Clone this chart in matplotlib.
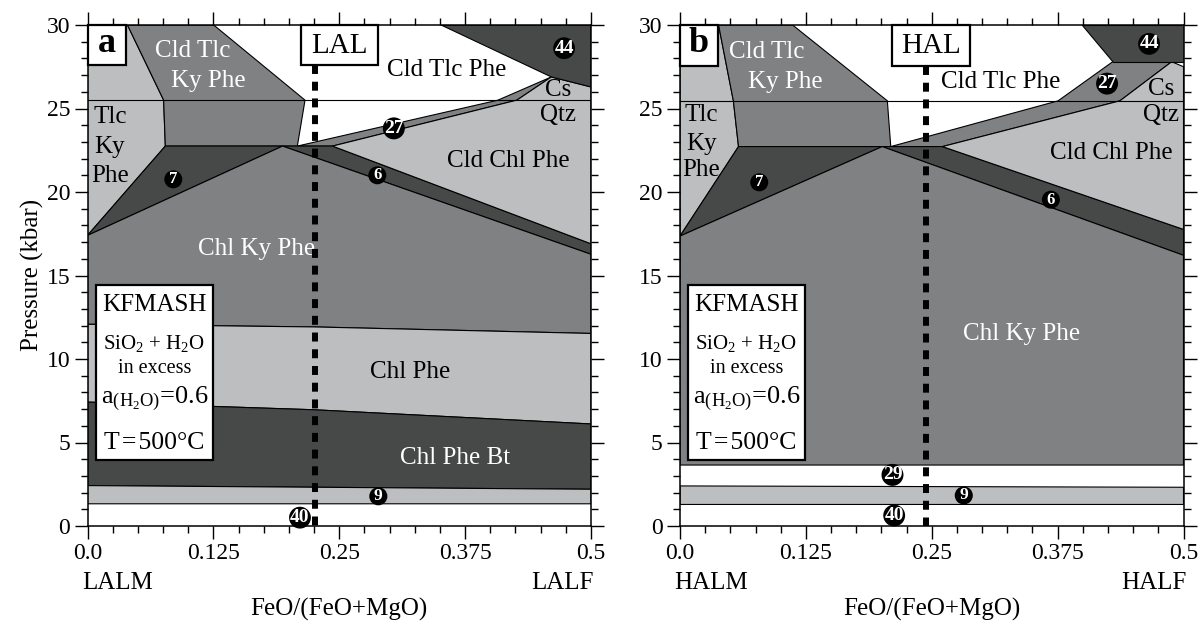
import matplotlib
matplotlib.use('Agg')
import matplotlib.pyplot as plt
from matplotlib.patches import Polygon, Rectangle
from matplotlib.ticker import MultipleLocator, FixedLocator

plt.rcParams['font.family'] = ['Liberation Serif', 'DejaVu Serif']
plt.rcParams['mathtext.fontset'] = 'custom'
plt.rcParams['mathtext.rm'] = 'Liberation Serif'
plt.rcParams['mathtext.it'] = 'Liberation Serif:italic'
plt.rcParams['mathtext.bf'] = 'Liberation Serif:bold'

LIGHT = '#bdbec0'
MID = '#808183'
DARK = '#474948'

# ---------------- data ----------------
x_ticks = [0.0, 0.125, 0.25, 0.375, 0.5]
x_tick_labels = ['0.0', '0.125', '0.25', '0.375', '0.5']

# Panel a (LAL) field boundaries  (x = FeO/(FeO+MgO), y = P kbar)
a_tlc_ky_phe = [(0, 30), (0.0397, 30), (0.0756, 25.5), (0.0773, 22.75), (0, 17.4)]
a_cld_tlc_ky_phe = [(0.0397, 30), (0.1253, 30), (0.216, 25.5), (0.2084, 22.75),
                    (0.0773, 22.75), (0.0756, 25.5)]
a_field7 = [(0, 17.4), (0.0773, 22.75), (0.1937, 22.75)]
a_field27 = [(0.2084, 22.75), (0.4076, 25.5), (0.4606, 26.89), (0.4264, 25.5), (0.2433, 22.75)]
a_field6 = [(0.1937, 22.75), (0.2433, 22.75), (0.5, 16.9), (0.5, 16.27)]
a_cld_chl_phe = [(0.2433, 22.75), (0.4264, 25.5), (0.4606, 26.89), (0.5, 26.29), (0.5, 16.9)]
a_field44 = [(0.3511, 30), (0.5, 30), (0.5, 26.29), (0.4606, 26.89)]
a_chl_ky_phe = [(0, 17.4), (0.1937, 22.75), (0.5, 16.27), (0.5, 11.53), (0.225, 11.92), (0, 12.08)]
a_chl_phe = [(0, 12.08), (0.225, 11.92), (0.5, 11.53), (0.5, 6.11), (0.225, 6.96), (0.125, 7.16), (0, 7.42)]
a_chl_phe_bt = [(0, 7.42), (0.125, 7.16), (0.225, 6.96), (0.5, 6.11), (0.5, 2.20), (0, 2.42)]
a_field9 = [(0, 2.42), (0.5, 2.20), (0.5, 1.33), (0, 1.33)]
a_hline = 25.5
a_section_x = 0.2255

# Panel b (HAL) field boundaries
b_tlc_ky_phe = [(0, 30), (0.0383, 30), (0.053, 25.46), (0.0581, 22.72), (0, 17.36)]
b_cld_tlc_ky_phe = [(0.0383, 30), (0.1118, 30), (0.2059, 25.46), (0.2093, 22.72),
                    (0.0581, 22.72), (0.053, 25.46)]
b_field7 = [(0, 17.36), (0.0581, 22.72), (0.2008, 22.72)]
b_field27 = [(0.2093, 22.72), (0.3755, 25.46), (0.4297, 27.8), (0.4883, 27.8), (0.4369, 25.46), (0.2606, 22.72)]
b_field6 = [(0.2008, 22.72), (0.2606, 22.72), (0.5, 17.76), (0.5, 16.21)]
b_cld_chl_phe = [(0.2606, 22.72), (0.4369, 25.46), (0.4883, 27.8), (0.5, 27.5), (0.5, 17.76)]
b_field44 = [(0.3991, 30), (0.5, 30), (0.5, 27.8), (0.4297, 27.8)]
b_chl_ky_phe = [(0, 17.36), (0.2008, 22.72), (0.5, 16.21), (0.5, 3.65), (0, 3.65)]
b_field9 = [(0, 2.40), (0.5, 2.32), (0.5, 1.29), (0, 1.29)]
b_hline = 25.46
b_section_x = 0.244

a_fields = [(a_tlc_ky_phe, LIGHT), (a_cld_tlc_ky_phe, MID), (a_field7, DARK),
            (a_field27, MID), (a_field6, DARK), (a_cld_chl_phe, LIGHT), (a_field44, DARK),
            (a_chl_ky_phe, MID), (a_chl_phe, LIGHT), (a_chl_phe_bt, DARK), (a_field9, LIGHT)]
b_fields = [(b_tlc_ky_phe, LIGHT), (b_cld_tlc_ky_phe, MID), (b_field7, DARK),
            (b_field27, MID), (b_field6, DARK), (b_cld_chl_phe, LIGHT), (b_field44, DARK),
            (b_chl_ky_phe, MID), (b_field9, LIGHT)]

# region labels: (text, x, y, colour)
a_labels = [('Cld Tlc', 0.1040, 28.47, 'white'), ('Ky Phe', 0.1200, 26.62, 'white'),
            ('Tlc', 0.0223, 24.5, 'black'), ('Ky', 0.0223, 22.7, 'black'), ('Phe', 0.0223, 20.96, 'black'),
            ('Cld Tlc Phe', 0.3563, 27.28, 'black'), ('Cs', 0.4675, 26.13, 'black'),
            ('Qtz', 0.4675, 24.6, 'black'), ('Cld Chl Phe', 0.4179, 21.83, 'black'),
            ('Chl Ky Phe', 0.168, 16.57, 'white'), ('Chl Phe', 0.3203, 9.21, 'black'),
            ('Chl Phe Bt', 0.3648, 4.05, 'white')]
b_labels = [('Cld Tlc', 0.0862, 28.37, 'white'), ('Ky Phe', 0.105, 26.59, 'white'),
            ('Tlc', 0.0212, 24.6, 'black'), ('Ky', 0.0212, 22.9, 'black'), ('Phe', 0.0212, 21.3, 'black'),
            ('Cld Tlc Phe', 0.3187, 26.59, 'black'), ('Cs', 0.4778, 26.19, 'black'),
            ('Qtz', 0.4778, 24.6, 'black'), ('Cld Chl Phe', 0.4282, 22.32, 'black'),
            ('Chl Ky Phe', 0.3393, 11.49, 'white')]

# circled reaction numbers: (text, x, y, fontsize)
a_circles = [('7', 0.0852, 20.76, 12), ('27', 0.3042, 23.81, 14), ('6', 0.2878, 21.0, 12),
             ('44', 0.4733, 28.61, 14), ('9', 0.2888, 1.78, 12.5), ('40', 0.211, 0.50, 14)]
b_circles = [('7', 0.0787, 20.58, 12), ('27', 0.4241, 26.49, 14), ('6', 0.3683, 19.54, 12),
             ('44', 0.4658, 28.87, 14), ('29', 0.211, 3.06, 14), ('9', 0.2818, 1.83, 12.5),
             ('40', 0.2127, 0.63, 14)]

# ---------------- figure ----------------
fig = plt.figure(figsize=(12.03, 6.25), dpi=100)
ax_a = fig.add_axes([87.5 / 1203, 1 - 526 / 625, 503.5 / 1203, 501 / 625])
ax_b = fig.add_axes([680 / 1203, 1 - 526 / 625, 503.5 / 1203, 501 / 625])


def draw_panel(ax, fields, hline, labels, circles, section_x, section, letter,
               left_em, right_em, letter_box, sec_box, kf_box):
    ax.set_xlim(0, 0.5)
    ax.set_ylim(0, 30)
    for verts, col in fields:
        ax.add_patch(Polygon(verts, closed=True, fc=col, ec='black', lw=0.8, zorder=1))
    ax.plot([0, 0.5], [hline, hline], color='black', lw=0.8, zorder=2)

    for txt, x, y, c in labels:
        ax.text(x, y, txt, color=c, fontsize=18, ha='center', va='center', zorder=3)
    for txt, x, y, fs in circles:
        ax.text(x, y, txt, color='white', fontsize=fs, fontweight='bold', ha='center',
                va='center', zorder=4,
                bbox=dict(boxstyle='circle,pad=0.06', fc='black', ec='none'))

    # section line
    ax.plot([section_x, section_x], [sec_box[1], 0], color='black', lw=4.3,
            dashes=(1.5, 1.3), dash_capstyle='butt', zorder=5)
    # section name box
    x0, y0, x1 = sec_box[0], sec_box[1], sec_box[2]
    ax.add_patch(Rectangle((x0, y0), x1 - x0, 30 - y0, fc='white', ec='black', lw=1.6,
                           zorder=6, clip_on=False))
    ax.text((x0 + x1) / 2, (y0 + 30) / 2 - 0.05, section, fontsize=21, ha='center',
            va='center', zorder=7)
    # panel letter
    lx1, ly0 = letter_box
    ax.add_patch(Rectangle((0, ly0), lx1, 30 - ly0, fc='white', ec='black', lw=1.6,
                           zorder=6, clip_on=False))
    ax.text(lx1 / 2, (ly0 + 30) / 2 + 0.1, letter, fontsize=26, fontweight='bold',
            ha='center', va='center', zorder=7)
    # KFMASH box
    kx0, ky0, kx1, ky1 = kf_box
    ax.add_patch(Rectangle((kx0, ky0), kx1 - kx0, ky1 - ky0, fc='white', ec='black',
                           lw=1.6, zorder=6))
    kc = (kx0 + kx1) / 2
    ax.text(kc, 13.25, 'KFMASH', fontsize=18, ha='center', va='center', zorder=7)
    ax.text(kc, 10.94, r'SiO$_2$ + H$_2$O', fontsize=15, ha='center', va='center', zorder=7)
    ax.text(kc, 9.44, 'in excess', fontsize=14.5, ha='center', va='center', zorder=7)
    ax.text(kc, 7.65, 'a$_{\\mathrm{(H_2O)}}$=0.6', fontsize=19, ha='center',
            va='center', zorder=7)
    ax.text(kc, 4.95, 'T\u200a=\u200a500°C', fontsize=18.5, ha='center', va='center', zorder=7)

    # axes / ticks
    ax.xaxis.set_major_locator(FixedLocator(x_ticks))
    ax.set_xticklabels(x_tick_labels)
    ax.xaxis.set_minor_locator(MultipleLocator(0.025))
    ax.yaxis.set_major_locator(MultipleLocator(5))
    ax.yaxis.set_minor_locator(MultipleLocator(1))
    ax.tick_params(which='both', direction='out', top=True, right=True, width=1.0,
                   labelsize=17, zorder=10)
    ax.tick_params(which='major', length=9.5, pad=3)
    ax.tick_params(which='minor', length=5)
    for s in ax.spines.values():
        s.set_linewidth(1.1)
        s.set_zorder(8)

    ax.annotate(left_em, xy=(0, 0), xycoords=('data', 'axes fraction'), xytext=(-4, -41),
                textcoords='offset points', ha='left', va='center', fontsize=18)
    ax.annotate(right_em, xy=(0.5, 0), xycoords=('data', 'axes fraction'), xytext=(2, -41),
                textcoords='offset points', ha='right', va='center', fontsize=18)
    ax.annotate('FeO/(FeO+MgO)', xy=(0.5, 0), xycoords='axes fraction', xytext=(0, -60),
                textcoords='offset points', ha='center', va='center', fontsize=18)


draw_panel(ax_a, a_fields, a_hline, a_labels, a_circles, a_section_x, 'LAL', 'a',
           'LALM', 'LALF', (0.038, 27.6), (0.2118, 27.58, 0.2885), (0.0084, 3.95, 0.1243, 14.44))
draw_panel(ax_b, b_fields, b_hline, b_labels, b_circles, b_section_x, 'HAL', 'b',
           'HALM', 'HALF', (0.0376, 27.54), (0.211, 27.56, 0.288), (0.0082, 3.95, 0.1238, 14.44))

fig.text(32 / 1203, 1 - 275 / 625, 'Pressure (kbar)', rotation=90, fontsize=18,
         ha='center', va='center')

fig.savefig('out.png', dpi=100)
